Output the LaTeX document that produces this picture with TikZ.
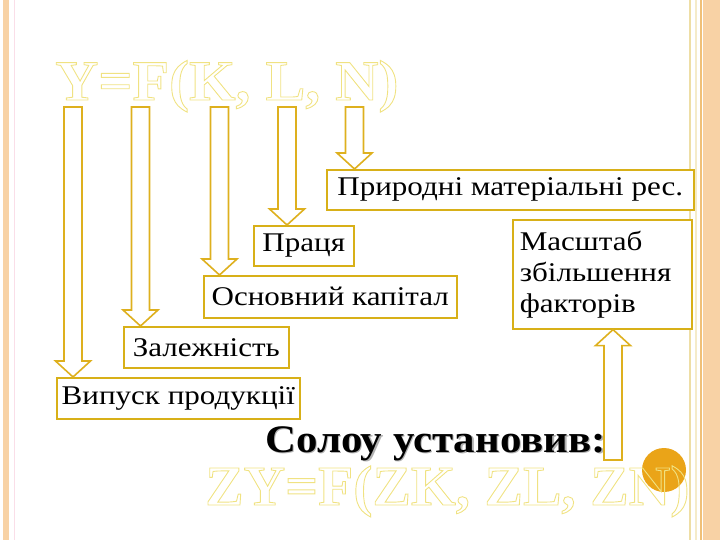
\documentclass[tikz,border=0pt]{standalone}
\usepackage{fontspec}
\setmainfont{Liberation Serif}
\newfontfamily\boxfont[FakeStretch=1.15]{Liberation Serif}
\newfontfamily\bigfont[FakeStretch=1.05]{Liberation Serif}
\newfontfamily\bigfontb[FakeStretch=1.02]{Liberation Serif}
\newfontfamily\solfont[FakeStretch=1.1]{Liberation Serif}
\usetikzlibrary{calc}
\definecolor{goldline}{RGB}{216,176,24}
\definecolor{arrline}{RGB}{222,176,30}
\definecolor{paleyel}{RGB}{240,226,130}
\definecolor{orangedot}{RGB}{234,164,24}
\definecolor{bandor}{RGB}{248,210,165}
\definecolor{pinkline}{RGB}{250,222,232}
\definecolor{lineyel}{RGB}{238,222,165}
\definecolor{lineor}{RGB}{240,192,120}
\newcommand\outlinetext[1]{\special{pdf:literal direct 1 Tr 0.9 w}#1\special{pdf:literal direct 0 Tr}}
\tikzset{
  box/.style={draw=goldline, line width=1.6pt, fill=white, inner sep=0pt, anchor=north west,
    font=\boxfont\fontsize{27}{31}\selectfont},
  blk/.style={draw=arrline, line width=1.6pt, fill=white, line join=miter},
  formula/.style={anchor=base west, inner sep=0pt, text=paleyel},
}
\newcommand\blockdown[2]{\draw[blk] let \p1=(#1), \p2=(#2.north) in
  (\x1-9pt,\y1) -- (\x1-9pt,\y2+16pt) -- (\x1-17.5pt,\y2+16pt) -- (\x1,\y2)
  -- (\x1+17.5pt,\y2+16pt) -- (\x1+9pt,\y2+16pt) -- (\x1+9pt,\y1) -- cycle;}
\newcommand\blockup[2]{\draw[blk] let \p1=(#1), \p2=(#2.south) in
  (\x1-9pt,\y1) -- (\x1-9pt,\y2-16pt) -- (\x1-17.5pt,\y2-16pt) -- (\x1,\y2)
  -- (\x1+17.5pt,\y2-16pt) -- (\x1+9pt,\y2-16pt) -- (\x1+9pt,\y1) -- cycle;}
\begin{document}
\begin{tikzpicture}[x=1pt,y=-1pt]
\useasboundingbox (0,0) rectangle (720,540);
% page frame
\fill[bandor] (3,0) rectangle (9,540);
\draw[pinkline, line width=1pt] (14.5,0) -- (14.5,540);
\draw[lineyel, line width=1.5pt] (690,0) -- (690,540);
\draw[lineyel!60, line width=1.5pt] (696,0) -- (696,540);
\fill[bandor] (703,0) rectangle (720,540);
\draw[lineor, line width=1.2pt] (701,0) -- (701,540);
% formulas
\node[formula, font=\bigfont\bfseries\fontsize{57}{60}\selectfont] (f1) at (55,100) {\outlinetext{Y=F(K, L, N)}};
\fill[orangedot] (664,470) circle (22);
\node[formula, font=\bigfontb\bfseries\fontsize{56.5}{60}\selectfont] (f2) at (205,505) {\outlinetext{ZY=F(ZK, ZL, ZN)}};
% Solow
\node[anchor=base west, inner sep=0pt, text=black!30, font=\solfont\bfseries\fontsize{39}{41}\selectfont]
  at (266.5,453.5) {Солоу установив:};
\node[anchor=base west, inner sep=0pt, font=\solfont\bfseries\fontsize{39}{41}\selectfont]
  (sol) at (265,452) {Солоу установив:};
% boxes
\node[box, minimum width=367pt, minimum height=40pt] (prir) at (326,169) {Природні матеріальні рес.};
\node[box, minimum width=100pt, minimum height=40pt] (pr) at (253,225) {Праця};
\node[box, minimum width=253pt, minimum height=42pt] (osn) at (203,275) {Основний капітал};
\node[box, minimum width=165pt, minimum height=41pt] (zal) at (123,326) {Залежність};
\node[box, minimum width=243pt, minimum height=41pt] (vyp) at (56,377) {Випуск продукції};
\node[box, minimum height=109pt, text width=165pt, align=left, inner xsep=7pt] (mas) at (512,219)
  {Масштаб\\збільшення\\факторів};
% arrows
\coordinate (s1) at (73,107);
\coordinate (s2) at (140.5,107);
\coordinate (s3) at (219.5,107);
\coordinate (s4) at (287,107);
\coordinate (s5) at (354.5,107);
\coordinate (s6) at (613,460);
\blockdown{s1}{vyp}
\blockdown{s2}{zal}
\blockdown{s3}{osn}
\blockdown{s4}{pr}
\blockdown{s5}{prir}
\blockup{s6}{mas}
\end{tikzpicture}
\end{document}
